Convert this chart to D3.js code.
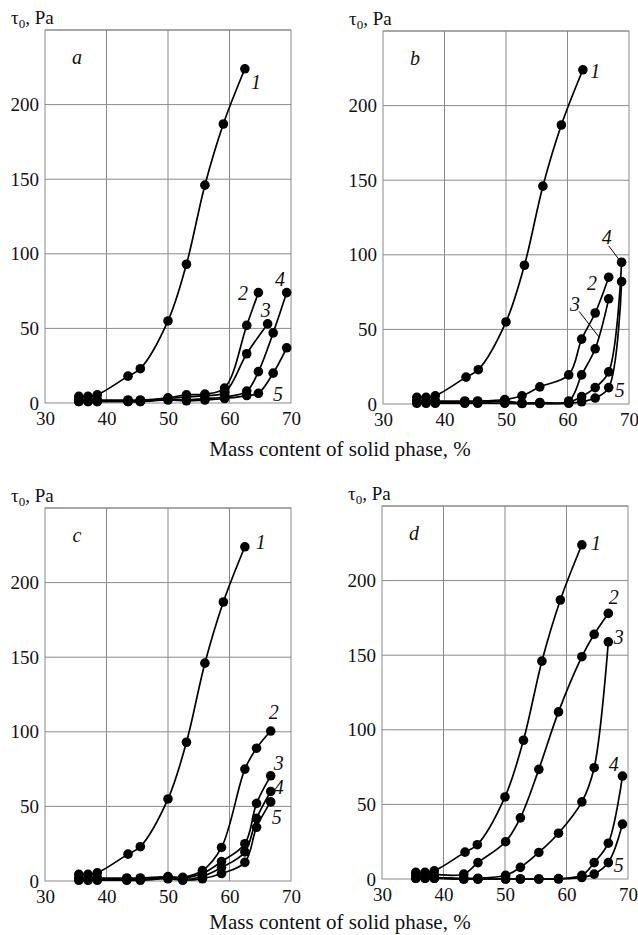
<!DOCTYPE html>
<html><head><meta charset="utf-8">
<script src="https://cdn.jsdelivr.net/npm/d3@7"></script>
<style>body{margin:0;background:#fff}svg{display:block}text{font-family:"Liberation Serif","Times New Roman",Times,serif;fill:#111}</style>
</head><body>
<svg id="c" width="638" height="935"></svg>
<script>
// ---------- data ----------
const xTicks = [30, 40, 50, 60, 70];
const yTicks = [0, 50, 100, 150, 200];
const panelNames = ["a", "b", "c", "d"];
const curveNames = ["1", "2", "3", "4", "5"];
const xTitle = "Mass content of solid phase, %";
const yTitle = "Pa";

// curve 1 (same in every panel)
const x1 = [35.5, 37, 38.5, 43.5, 45.5, 50, 53, 56, 59, 62.5];
const y1 = [4.5, 4.5, 5.5, 18, 23, 55, 93, 146, 187, 224];

// panel a
const xa2 = [35.5, 37, 38.5, 43.5, 45.5, 50, 53, 56, 59.2, 62.8, 64.7];
const ya2 = [2, 2, 2, 2, 2, 3.5, 5.5, 6, 10, 52, 74];
const xa3 = [35.5, 37, 38.5, 43.5, 45.5, 50, 53, 56, 59.2, 62.8, 66.2];
const ya3 = [1.5, 1.5, 1.5, 1.5, 1.5, 3, 4, 5, 7, 33, 53];
const xa4 = [35.5, 37, 38.5, 43.5, 45.5, 50, 53, 56, 59.2, 62.8, 64.7, 67.1, 69.3];
const ya4 = [1, 1, 1, 1, 1, 2.5, 2, 3, 4, 8, 21, 47, 74];
const xa5 = [35.5, 37, 38.5, 43.5, 45.5, 50, 53, 56, 59.2, 62.8, 64.7, 67.1, 69.3];
const ya5 = [1, 1, 1, 1, 1, 2, 1.5, 2, 3, 5, 6.5, 20, 37];

// panel b
const xb2 = [35.5, 37, 38.5, 43.3, 45.4, 49.8, 52.6, 55.5, 60.2, 62.3, 64.5, 66.7];
const yb2 = [2, 2, 2, 2, 2, 3, 5.5, 11.5, 19.5, 43.5, 61, 85];
const xb3 = [35.5, 37, 38.5, 43.3, 45.4, 49.8, 52.6, 55.5, 60.2, 62.3, 64.5, 66.7];
const yb3 = [1.5, 1.5, 1.5, 1.5, 1.5, 2, 0.5, 1, 2, 19.5, 37, 70.5];
const xb4 = [35.5, 37, 38.5, 43.3, 45.4, 49.8, 52.6, 55.5, 60.2, 62.3, 64.5, 66.7, 68.8];
const yb4 = [1, 1, 1, 1, 1, 1.5, 0.5, 0.5, 1, 5, 11, 21.5, 95];
const xb5 = [35.5, 37, 38.5, 43.3, 45.4, 49.8, 52.6, 55.5, 60.2, 62.3, 64.5, 66.7, 68.8];
const yb5 = [0.5, 0.5, 0.5, 0.5, 0.5, 0.5, 0.3, 0.3, 0.5, 1.5, 4, 11, 82];

// panel c
const xc2 = [35.5, 37, 38.5, 43.3, 45.5, 50, 52.4, 55.6, 58.7, 62.5, 64.4, 66.7];
const yc2 = [2, 2, 2, 2, 2, 3, 2.5, 7, 22.5, 75, 89, 100.5];
const xc3 = [35.5, 37, 38.5, 43.3, 45.5, 50, 52.4, 55.6, 58.7, 62.5, 64.4, 66.7];
const yc3 = [1.5, 1.5, 1.5, 1.5, 1.5, 2.5, 2, 5, 13, 25, 52, 70.5];
const xc4 = [35.5, 37, 38.5, 43.3, 45.5, 50, 52.4, 55.6, 58.7, 62.5, 64.4, 66.7];
const yc4 = [1, 1, 1, 1, 1, 2, 1, 3, 9, 19.5, 42, 60];
const xc5 = [35.5, 37, 38.5, 43.3, 45.5, 50, 52.4, 55.6, 58.7, 62.5, 64.4, 66.7];
const yc5 = [0.5, 0.5, 0.5, 0.5, 0.5, 1.5, 0.5, 1.5, 5, 12.5, 36, 53];

// panel d
const xd2 = [35.5, 37, 38.5, 43.3, 45.6, 50.1, 52.5, 55.5, 58.7, 62.5, 64.5, 66.8];
const yd2 = [3, 3, 3, 3.3, 11, 25, 41, 73.5, 112, 149, 164, 178];
const xd3 = [35.5, 37, 38.5, 43.3, 45.6, 50.1, 52.5, 55.5, 58.7, 62.5, 64.5, 66.8];
const yd3 = [1, 1, 1, 0.5, 0.5, 2.5, 7.8, 17.8, 30.7, 51.7, 74.6, 159];
const xd4 = [35.5, 37, 38.5, 43.3, 45.6, 50.1, 52.5, 55.5, 58.7, 62.5, 64.5, 66.8, 69.1];
const yd4 = [0.5, 0.5, 0.5, 0, 0, 0, 0, 0, 0.3, 2.5, 11, 24, 69];
const xd5 = [35.5, 37, 38.5, 43.3, 45.6, 50.1, 52.5, 55.5, 58.7, 62.5, 64.5, 66.8, 69.1];
const yd5 = [0.5, 0.5, 0.5, 0, 0, 0, 0, 0, 0, 1, 3.3, 11, 36.8];

// curve-number annotation anchors (data units) per panel, curves 1..5
const labelsA = [[64.3, 215], [62.2, 74], [65.9, 62], [68.2, 83], [67.9, 6]];
const labelsB = [[64.5, 223], [64.0, 81], [61.2, 67], [66.4, 112], [68.5, 9.4]];
const labelsC = [[65.1, 227], [67.2, 113], [68.0, 79], [68.0, 63], [67.7, 43]];
const labelsD = [[64.8, 225], [67.7, 189], [68.5, 162], [67.7, 77], [68.5, 9.4]];
// leader lines in panel b (curves 3 and 4)
const leadersB = [[[61.9, 62], [65.1, 45]], [[66.7, 106], [68.7, 95]]];

// ---------- layout ----------
const panels = [
  {name: panelNames[0], x0: 45, y0: 30, xs: [xa2, xa3, xa4, xa5], ys: [ya2, ya3, ya4, ya5], labels: labelsA, leaders: [], titleY: 456},
  {name: panelNames[1], x0: 383, y0: 31, xs: [xb2, xb3, xb4, xb5], ys: [yb2, yb3, yb4, yb5], labels: labelsB, leaders: leadersB, titleY: null},
  {name: panelNames[2], x0: 45, y0: 508, xs: [xc2, xc3, xc4, xc5], ys: [yc2, yc3, yc4, yc5], labels: labelsC, leaders: [], titleY: 929},
  {name: panelNames[3], x0: 382, y0: 506, xs: [xd2, xd3, xd4, xd5], ys: [yd2, yd3, yd4, yd5], labels: labelsD, leaders: [], titleY: null}
];
const W = 246, H = 373;
const svg = d3.select("#c");
const gridCol = "#8a8a8a";
const FF = '"Liberation Serif","Times New Roman",Times,serif';

panels.forEach(p => {
  const g = svg.append("g").attr("transform", `translate(${p.x0},${p.y0})`);
  const x = d3.scaleLinear().domain([30, 70]).range([0, W]);
  const y = d3.scaleLinear().domain([0, 250]).range([H, 0]);

  // grid
  g.append("g").selectAll("line").data(xTicks.slice(1, -1)).join("line")
    .attr("x1", d => x(d)).attr("x2", d => x(d)).attr("y1", 0).attr("y2", H)
    .attr("stroke", gridCol).attr("stroke-width", 1);
  g.append("g").selectAll("line").data(yTicks.slice(1).concat([250])).join("line")
    .attr("x1", 0).attr("x2", W).attr("y1", d => y(d)).attr("y2", d => y(d))
    .attr("stroke", gridCol).attr("stroke-width", 1);
  g.append("rect").attr("x", 0).attr("y", 0).attr("width", W).attr("height", H)
    .attr("fill", "none").attr("stroke", gridCol).attr("stroke-width", 1);

  // axes (labels only)
  const ax = g.append("g").attr("transform", `translate(0,${H})`)
    .call(d3.axisBottom(x).tickValues(xTicks).tickSize(0).tickPadding(9));
  ax.attr("font-family", FF);
  ax.select(".domain").remove();
  ax.selectAll("text").attr("font-size", 19).attr("fill", "#111");
  const ay = g.append("g").call(d3.axisLeft(y).tickValues(yTicks).tickSize(0).tickPadding(6));
  ay.attr("font-family", FF);
  ay.select(".domain").remove();
  ay.selectAll("text").attr("font-size", 19).attr("fill", "#111");

  // y title
  const yt = svg.append("text").attr("x", p.x0 - 34).attr("y", p.y0 - 6).attr("font-size", 19);
  yt.append("tspan").text("τ");
  yt.append("tspan").attr("font-size", 13).attr("dy", 4).text("0");
  yt.append("tspan").attr("dy", -4).text(", " + yTitle);

  // panel letter
  g.append("text").attr("x", x(35.2)).attr("y", y(232)).attr("font-size", 20)
    .attr("font-style", "italic").attr("text-anchor", "middle").attr("dominant-baseline", "central").text(p.name);

  const line = d3.line().x(d => x(d[0])).y(d => y(d[1])).curve(d3.curveCatmullRom.alpha(0.5));
  const allX = [x1].concat(p.xs), allY = [y1].concat(p.ys);
  allX.forEach((xs, i) => {
    const pts = xs.map((v, j) => [v, allY[i][j]]);
    g.append("path").datum(pts).attr("d", line).attr("fill", "none")
      .attr("stroke", "#000").attr("stroke-width", 1.7);
  });
  allX.forEach((xs, i) => {
    const pts = xs.map((v, j) => [v, allY[i][j]]);
    g.append("g").selectAll("circle").data(pts).join("circle")
      .attr("cx", d => x(d[0])).attr("cy", d => y(d[1])).attr("r", 4.8).attr("fill", "#000");
  });

  // curve numbers
  p.labels.forEach((l, i) => {
    g.append("text").attr("x", x(l[0])).attr("y", y(l[1])).attr("font-size", 20)
      .attr("font-style", "italic").attr("text-anchor", "middle").attr("dominant-baseline", "central")
      .text(curveNames[i]);
  });
  p.leaders.forEach(l => {
    g.append("line").attr("x1", x(l[0][0])).attr("y1", y(l[0][1])).attr("x2", x(l[1][0])).attr("y2", y(l[1][1]))
      .attr("stroke", "#000").attr("stroke-width", 1);
  });

  if (p.titleY) {
    svg.append("text").attr("x", 340).attr("y", p.titleY).attr("font-size", 21)
      .attr("text-anchor", "middle").text(xTitle);
  }
});
</script>
</body></html>
